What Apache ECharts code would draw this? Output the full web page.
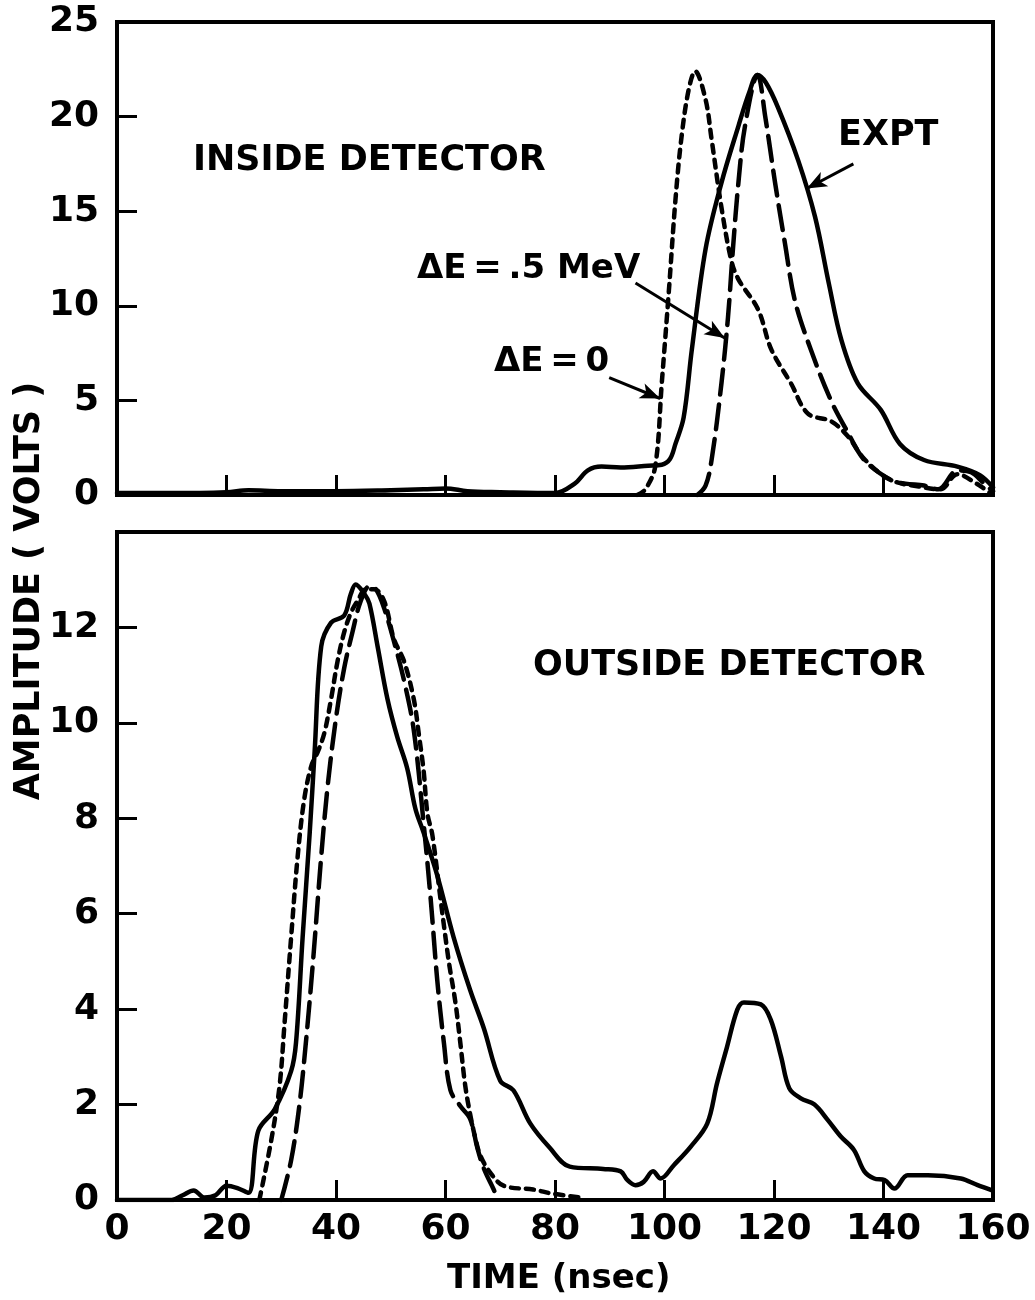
<!DOCTYPE html>
<html>
<head>
<meta charset="utf-8">
<script src="https://cdn.jsdelivr.net/npm/echarts@6/dist/echarts.min.js"></script>
<style>
html,body{margin:0;padding:0;background:#fff;}
#chart{width:1035px;height:1300px;}
</style>
</head>
<body>
<div id="chart"></div>
<script>
// ---------- DATA ----------
const xTicks = [0, 20, 40, 60, 80, 100, 120, 140, 160];
const topYTicks = [0, 5, 10, 15, 20, 25];
const botYTicks = [0, 2, 4, 6, 8, 10, 12];

// INSIDE DETECTOR  [time (nsec), amplitude (V)]
const topExpt = [[0,0.1],[10,0.1],[20,0.15],[24,0.25],[30,0.2],[40,0.2],[50,0.25],[56,0.3],[60,0.35],[64,0.2],[70,0.15],[80,0.1],[83.6,0.6],[86,1.3],[88.5,1.5],[92,1.45],[97,1.55],[99.5,1.6],[101,1.9],[102,2.7],[103.5,4.1],[105,7.7],[107.5,13],[110.4,16.5],[113.5,19.5],[115.5,21.3],[117,22.2],[118.5,21.8],[120.7,20.5],[124.4,17.7],[127.5,14.7],[130,11.2],[132.3,8.2],[135.3,5.9],[139.5,4.5],[143,2.7],[147.4,1.85],[153.5,1.5],[157.6,1.05],[160,0.4]];
const topDE0 = [[95,0],[96.5,0.3],[98.3,1.5],[99.5,5.9],[100.8,10.8],[102,15.6],[103.1,18.9],[104.4,21.4],[105.6,22.4],[107.5,20.9],[108.6,18.8],[110.4,15.2],[112.2,12.4],[113.5,11.4],[117.1,9.8],[119.5,7.7],[123.1,5.9],[126.2,4.3],[130.4,3.9],[133.5,3.1],[136.5,1.9],[141.3,0.8],[147.4,0.4],[150.4,0.3],[153.5,1.1],[157,0.6],[159.5,0.1]];
const topDE05 = [[106,0],[107.5,0.5],[108.6,1.85],[110.4,5.9],[111.6,9.4],[112.5,13],[113.5,16.5],[114.7,19.5],[117,22.2],[118.4,20],[120.2,16.5],[122,13.3],[123.8,10.3],[126.7,7.7],[130.4,5],[133.5,3.3],[136.5,1.85],[141.3,0.8],[144,0.6],[147.4,0.5],[150,0.3],[153.5,1.3],[156,1.2],[158.4,0.6],[160,0.2]];

// OUTSIDE DETECTOR
const botExpt = [[0,0],[10,0],[12,0.1],[14,0.2],[16,0.05],[18,0.1],[20,0.3],[22,0.25],[24,0.15],[25.8,1.45],[28.8,1.9],[31.8,2.7],[32.7,3.3],[33.9,5.5],[35.2,7.7],[36.1,9.4],[37.3,11.6],[39.1,12.1],[41.5,12.25],[42.7,12.7],[43.6,12.9],[45.2,12.7],[46.1,12.5],[47.6,11.6],[49.4,10.5],[51.2,9.7],[53,9.05],[54.5,8.2],[56,7.7],[58.5,6.8],[61.5,5.5],[64.5,4.4],[67,3.6],[70,2.5],[72.4,2.3],[75.5,1.6],[79,1.1],[82.7,0.7],[88.8,0.65],[92,0.6],[93.2,0.42],[94.7,0.31],[96.2,0.38],[97.9,0.6],[99.3,0.45],[101.7,0.73],[104.8,1.12],[107.8,1.6],[109.6,2.45],[111.4,3.2],[113.3,3.99],[114.5,4.14],[117.6,4.1],[119.4,3.78],[121.3,3.0],[122.8,2.34],[124.9,2.13],[127.4,2.0],[129.8,1.68],[132.2,1.33],[134.6,1.05],[136.5,0.6],[138.3,0.45],[140.2,0.42],[142,0.24],[144.4,0.52],[148.1,0.52],[154.1,0.45],[157.2,0.31],[159.6,0.21]];
const botDE0 = [[26,0],[28.2,1.27],[29.7,2.4],[30.6,3.7],[31.8,5.5],[33,7.2],[34.2,8.4],[35.5,9.1],[36.7,9.4],[37.9,9.8],[39.1,10.5],[40.3,11.3],[41.5,11.9],[42.7,12.3],[43.9,12.55],[45.5,12.8],[47,12.8],[48.8,12.55],[50.6,11.75],[52.4,11.3],[54.2,10.5],[55.2,9.7],[56,9.0],[56.7,8.1],[57.6,7.65],[59.1,6.3],[60.6,5.0],[61.8,4.15],[62.7,3.3],[63.6,2.4],[64.5,1.8],[65.5,1.27],[66.4,0.92],[68.2,0.57],[70.6,0.3],[76,0.22],[79.7,0.13],[85,0.05]];
const botDE05 = [[30,0],[31.8,0.83],[33.3,1.97],[34.5,3.3],[35.8,5.0],[37.3,7.2],[38.5,8.7],[40,10.1],[41.5,11.15],[43,11.9],[44.5,12.55],[46.1,12.86],[47.3,12.8],[48.8,12.4],[50.6,11.7],[52.4,10.9],[54.2,9.85],[56,7.9],[57.3,6.3],[58.5,4.6],[59.7,3.3],[60.9,2.3],[62.7,1.97],[64.5,1.7],[65.8,1.1],[67,0.66],[68.8,0.22],[69.7,0]];

// annotation arrows [from, to] in data coordinates of the top panel
const arrowExpt = [[134.5,17.5],[126,16.2]];
const arrowDE05 = [[94.7,11.2],[111.0,8.3]];
const arrowDE0 = [[89.9,6.2],[99.2,5.1]];

// ---------- CHART ----------
const FONT = "'DejaVu Sans', sans-serif";
const chart = echarts.init(document.getElementById('chart'), null, {renderer: 'canvas'});

function xAxisCfg(gi, showLabels) {
  return {
    gridIndex: gi, type: 'value', min: 0, max: 160, interval: 20,
    axisLine: {show: false},
    axisTick: {show: true, inside: true, length: 20, lineStyle: {color: '#000', width: 3}},
    axisLabel: {show: showLabels, color: '#000', fontFamily: FONT, fontWeight: 'bold', fontSize: 36, margin: 12,
      formatter: v => xTicks.indexOf(v) >= 0 ? String(v) : ''},
    splitLine: {show: false}
  };
}
function yAxisCfg(gi, max, interval, ticks) {
  return {
    gridIndex: gi, type: 'value', min: 0, max: max, interval: interval,
    axisLine: {show: false},
    axisTick: {show: true, inside: true, length: 20, lineStyle: {color: '#000', width: 3}},
    axisLabel: {show: true, color: '#000', fontFamily: FONT, fontWeight: 'bold', fontSize: 36, margin: 18,
      formatter: v => ticks.indexOf(v) >= 0 ? String(v) : ''},
    splitLine: {show: false}
  };
}
function lineSeries(xi, data, type, extra) {
  return Object.assign({
    type: 'line', xAxisIndex: xi, yAxisIndex: xi, data: data,
    showSymbol: false, smooth: 0.35, silent: true,
    lineStyle: {color: '#000', width: 4.5, type: type, cap: 'round', join: 'round'}
  }, extra || {});
}
function arrow(a) {
  return [{coord: a[0]}, {coord: a[1]}];
}

const option = {
  animation: false,
  backgroundColor: '#fff',
  grid: [
    {left: 117, top: 22, width: 876, height: 473, show: true, borderColor: '#000', borderWidth: 4, backgroundColor: 'transparent'},
    {left: 117, top: 532, width: 876, height: 668, show: true, borderColor: '#000', borderWidth: 4, backgroundColor: 'transparent'}
  ],
  xAxis: [xAxisCfg(0, false), xAxisCfg(1, true)],
  yAxis: [yAxisCfg(0, 25, 5, topYTicks), yAxisCfg(1, 14, 2, botYTicks)],
  series: [
    lineSeries(0, topExpt, 'solid', {
      markLine: {
        silent: true, symbol: ['none', 'arrow'], symbolSize: [12, 20], precision: 2,
        label: {show: false},
        lineStyle: {color: '#000', width: 3, type: 'solid'},
        data: [arrow(arrowExpt), arrow(arrowDE05), arrow(arrowDE0)]
      }
    }),
    lineSeries(0, topDE0, [8, 7]),
    lineSeries(0, topDE05, [25, 10]),
    lineSeries(1, botExpt, 'solid'),
    lineSeries(1, botDE0, [8, 7]),
    lineSeries(1, botDE05, [25, 10])
  ],
  graphic: [
    {type: 'text', left: 193, top: 143, style: {text: 'INSIDE DETECTOR', font: 'bold 35px ' + FONT, fill: '#000'}},
    {type: 'text', left: 838, top: 118, style: {text: 'EXPT', font: 'bold 35px ' + FONT, fill: '#000'}},
    {type: 'text', left: 417, top: 252, style: {text: 'ΔE\u2009=\u2009.5 MeV', font: 'bold 34px ' + FONT, fill: '#000'}},
    {type: 'text', left: 494, top: 345, style: {text: 'ΔE\u2009=\u20090', font: 'bold 34px ' + FONT, fill: '#000'}},
    {type: 'text', left: 533, top: 648, style: {text: 'OUTSIDE DETECTOR', font: 'bold 35px ' + FONT, fill: '#000'}},
    {type: 'text', left: 447, top: 1262, style: {text: 'TIME (nsec)', font: 'bold 34px ' + FONT, fill: '#000'}},
    {type: 'text', x: 30, y: 591, rotation: Math.PI / 2,
      style: {text: 'AMPLITUDE ( VOLTS )', font: 'bold 35px ' + FONT, fill: '#000', align: 'center', verticalAlign: 'middle'}}
  ]
};
chart.setOption(option);
</script>
</body>
</html>
